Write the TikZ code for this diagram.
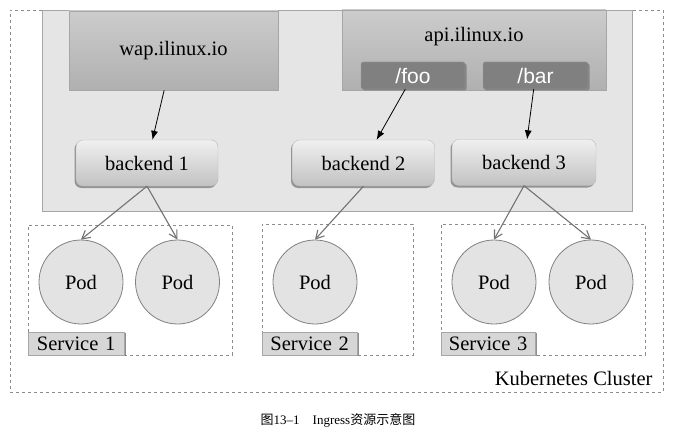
\documentclass[tikz,border=0pt]{standalone}
\usepackage{fontspec}
\setmainfont{Liberation Serif}
\newfontfamily\pathfont{Liberation Sans}
\newfontfamily\cjk{Noto Sans CJK SC}
\usetikzlibrary{arrows.meta,shadows}

\begin{document}
\begin{tikzpicture}[x=1pt,y=-1pt,font=\fontsize{20.5}{24}\selectfont,
    frame/.style={draw=black!45,dashed,line width=0.8pt,anchor=north west},
    host/.style={draw=black!35,line width=0.8pt,top color=black!20,bottom color=black!31,inner sep=0pt},
    urlpath/.style={fill=black!50,draw=black!40,text=white,font=\pathfont\fontsize{21}{24}\selectfont,
        minimum width=104,minimum height=27,inner sep=0pt,rounded corners=2pt,
        drop shadow={shadow xshift=1.5pt,shadow yshift=-1.5pt,fill=black!60,opacity=0.6}},
    backend/.style={draw=black!28,top color=black!6,bottom color=black!24,rounded corners=7pt,
        minimum width=142,minimum height=46,inner sep=0pt,
        drop shadow={shadow xshift=-1.5pt,shadow yshift=-2pt,fill=black!55,opacity=0.7}},
    pod/.style={circle,draw=black!50,fill=black!11,line width=0.8pt,minimum size=84,inner sep=0pt},
    svclabel/.style={draw=black!35,fill=black!16,anchor=south west,minimum height=23,
        inner sep=0pt,text width=96,align=center,
        drop shadow={shadow xshift=2pt,shadow yshift=0pt,fill=black!55,opacity=0.8}},
    route/.style={-{Latex[length=9pt,width=7pt]},line width=0.8pt},
    fwd/.style={-{Straight Barb[length=8pt,width=9pt]},draw=black!55,line width=1.1pt}]
  \useasboundingbox (0,0) rectangle (677,433);
  \node[frame,minimum width=653,minimum height=382] (cluster) at (10,10) {};
  \node[anchor=east] (clustername) at (656,378) {Kubernetes Cluster};
  \node[draw=black!35,fill=black!10,line width=0.8pt,anchor=north west,
        minimum width=590,minimum height=201,inner sep=0pt] (ingress) at (42,10) {};
  \node[host,minimum width=209,minimum height=79] (wap) at (173.5,50.5) {wap.ilinux.io};
  \node[host,minimum width=264,minimum height=80] (api) at (474,50) {};
  \node (apiname) at (474,37) {api.ilinux.io};
  \node[urlpath] (foo) at (413,75.5) {/foo};
  \node[urlpath,minimum width=105] (bar) at (535.5,75.5) {/bar};
  \node[backend] (be1) at (147,163) {backend 1};
  \node[backend] (be2) at (363.5,163) {backend 2};
  \node[backend,minimum width=144] (be3) at (524,162.5) {backend 3};
  \draw[route] (wap) -- (be1);
  \draw[route] (foo) -- (be2);
  \draw[route] (bar) -- (be3);
  \node[frame,minimum width=204,minimum height=130] (svc1) at (28,225) {};
  \node[frame,minimum width=151,minimum height=131] (svc2) at (262,224) {};
  \node[frame,minimum width=204,minimum height=131] (svc3) at (441,224) {};
  \node[svclabel] (svc1name) at (svc1.south west) {Service 1};
  \node[svclabel,text width=95] (svc2name) at (svc2.south west) {Service 2};
  \node[svclabel,text width=94] (svc3name) at (svc3.south west) {Service 3};
  \node[pod] (pod11) at (81,282) {Pod};
  \node[pod] (pod12) at (177.5,282) {Pod};
  \node[pod] (pod21) at (315,282) {Pod};
  \node[pod] (pod31) at (494,282) {Pod};
  \node[pod] (pod32) at (591,282) {Pod};
  \draw[fwd] (be1.south) -- (pod11.north);
  \draw[fwd] (be1.south) -- (pod12.north);
  \draw[fwd] (be2.south) -- (pod21.north);
  \draw[fwd] (be3.south) -- (pod31.north);
  \draw[fwd] (be3.south) -- (pod32.north);
  \node[font=\fontsize{13}{15}\selectfont] (caption) at (338,420)
    {{\cjk 图}13--1\quad Ingress{\cjk 资源示意图}};
\end{tikzpicture}
\end{document}
